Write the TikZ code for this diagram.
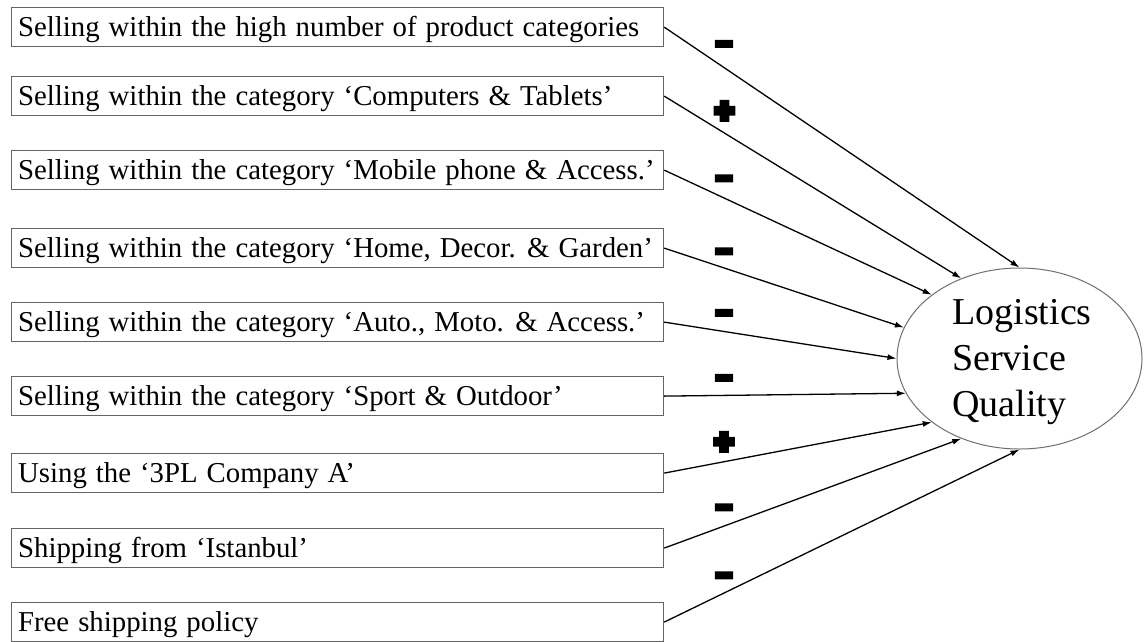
\documentclass[tikz,border=0pt]{standalone}
\usepackage{fontspec}
\setmainfont{Liberation Serif}[WordSpace=1.25]
\newfontfamily\signfont{Liberation Sans Bold}[FakeBold=20]
\usetikzlibrary{arrows.meta,shapes.geometric}
\definecolor{boxgray}{RGB}{100,100,100}
\definecolor{ellgray}{RGB}{110,110,110}
\newcommand{\boxtext}[1]{\makebox[639pt][l]{#1}}
\begin{document}
\begin{tikzpicture}[x=1pt,y=-1pt,
  inbox/.style={draw=boxgray, line width=1.2pt, rectangle, anchor=north west,
    minimum width=652pt, minimum height=39pt, inner xsep=6.5pt, inner ysep=0pt,
    text height=24pt, text depth=5pt,
    font=\fontsize{28.8}{34}\selectfont},
  arr/.style={line width=1.3pt, -{Latex[length=9pt,width=6pt]}},
  sign/.style={inner sep=0pt, font=\signfont\fontsize{26}{26}\selectfont},
  plussign/.style={inner sep=0pt, font=\signfont\fontsize{31}{31}\selectfont}]
\useasboundingbox (0,0) rectangle (1144,641);
\node[inbox] (b1) at (11,7) {\boxtext{Selling within the high number of product categories}};
\node[inbox] (b2) at (11,76) {\boxtext{Selling within the category ‘Computers \& Tablets’}};
\node[inbox] (b3) at (11,150) {\boxtext{Selling within the category ‘Mobile phone \& Access.’}};
\node[inbox] (b4) at (11,228) {\boxtext{Selling within the category ‘Home, Decor. \& Garden’}};
\node[inbox] (b5) at (11,302) {\boxtext{Selling within the category ‘Auto., Moto. \& Access.’}};
\node[inbox] (b6) at (11,376) {\boxtext{Selling within the category ‘Sport \& Outdoor’}};
\node[inbox] (b7) at (11,453) {\boxtext{Using the ‘3PL Company A’}};
\node[inbox] (b8) at (11,528) {\boxtext{Shipping from ‘Istanbul’}};
\node[inbox] (b9) at (11,602) {\boxtext{Free shipping policy}};
\node[draw=ellgray, ellipse, line width=1pt, minimum width=245pt, minimum height=181pt, inner sep=0pt] (E) at (1019.5,358.5) {};
\node[align=left, inner sep=0pt, font=\fontsize{38}{46}\selectfont] (T) at (1022,362) {Logistics\\Service\\Quality};
\draw[arr] (b1.east) -- (E.90);
\draw[arr] (b2.east) -- (E.126);
\draw[arr] (b3.east) -- (E.144);
\draw[arr] (b4.east) -- (E.165);
\draw[arr] (b5.east) -- (E.180);
\draw[arr] (b6.east) -- (E.197);
\draw[arr] (b7.east) -- (E.216);
\draw[arr] (b8.east) -- (E.234);
\draw[arr] (b9.east) -- (E.270);
\node[sign] (s1) at (724,47.5) {−};
\node[plussign] (s2) at (724.5,112) {+};
\node[sign] (s3) at (724,182) {−};
\node[sign] (s4) at (724,255) {−};
\node[sign] (s5) at (724,316.5) {−};
\node[sign] (s6) at (724,381.5) {−};
\node[plussign] (s7) at (724,443) {+};
\node[sign] (s8) at (724,511) {−};
\node[sign] (s9) at (724,579) {−};
\end{tikzpicture}
\end{document}
